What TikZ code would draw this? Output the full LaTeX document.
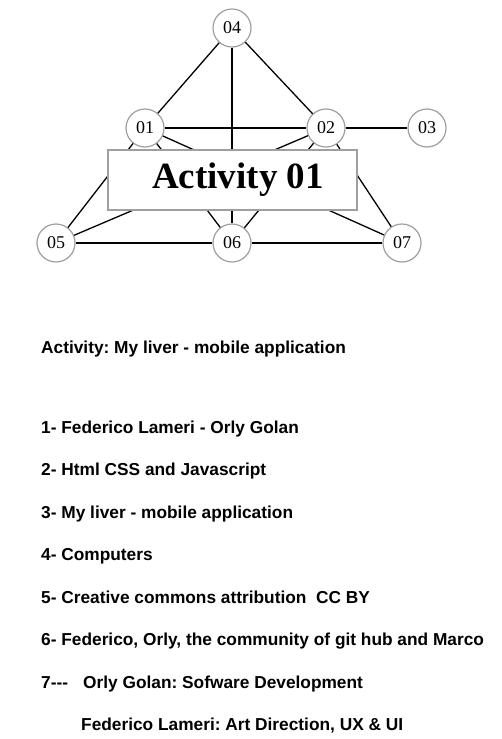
\documentclass[tikz,border=0pt]{standalone}
\usepackage{fontspec}
\setmainfont{Liberation Serif}
\newfontfamily\listfont{Liberation Sans}
\frenchspacing
\begin{document}
\begin{tikzpicture}[x=1pt,y=-1pt,
  vnode/.style={circle,draw=gray!75,fill=white,line width=1.2pt,minimum size=38pt,inner sep=0pt,font=\fontsize{18}{18}\selectfont},
  edge/.style={line width=1.3pt,black},
  titlebox/.style={draw=gray!75,fill=white,line width=1.3pt,minimum width=249pt,minimum height=60pt,inner sep=0pt,font=\fontsize{37}{37}\selectfont\bfseries},
  listline/.style={anchor=base west,inner sep=0pt,font=\listfont\bfseries\fontsize{17.3}{17.3}\selectfont}]
\useasboundingbox (0,0) rectangle (501,739);
\node[vnode] (n04) at (232,28) {04};
\node[vnode] (n01) at (145,128) {01};
\node[vnode] (n02) at (326,128) {02};
\node[vnode] (n03) at (427,128) {03};
\node[vnode] (n05) at (56,243) {05};
\node[vnode] (n06) at (232,243) {06};
\node[vnode] (n07) at (402,243) {07};
\draw[edge] (n04) -- (n01);
\draw[edge] (n04) -- (n02);
\draw[edge] (n04) -- (n06);
\draw[edge] (n01) -- (n02);
\draw[edge] (n02) -- (n03);
\draw[edge] (n01) -- (n05);
\draw[edge] (n01) -- (n06);
\draw[edge] (n01) -- (n07);
\draw[edge] (n02) -- (n05);
\draw[edge] (n02) -- (n06);
\draw[edge] (n02) -- (n07);
\draw[edge] (n05) -- (n06);
\draw[edge] (n06) -- (n07);
\node[titlebox] (title) at (232.5,180) {\hspace*{11pt}Activity 01};
\node[listline] (a0) at (41,353) {Activity: My liver - mobile application};
\node[listline] (a1) at (41,433) {1- Federico Lameri - Orly Golan};
\node[listline] (a2) at (41,475) {2- Html CSS and Javascript};
\node[listline] (a3) at (41,518) {3- My liver - mobile application};
\node[listline] (a4) at (41,560) {4- Computers};
\node[listline] (a5) at (41,603) {5- Creative commons attribution\ \ CC BY};
\node[listline] (a6) at (41,645) {6- Federico, Orly, the community of git hub and Marco};
\node[listline] (a7) at (41,688) {7---};
\node[listline] (a7b) at (83,688) {Orly Golan: Sofware Development};
\node[listline] (a8) at (81,730) {Federico Lameri: Art Direction, UX \& UI};
\end{tikzpicture}
\end{document}
